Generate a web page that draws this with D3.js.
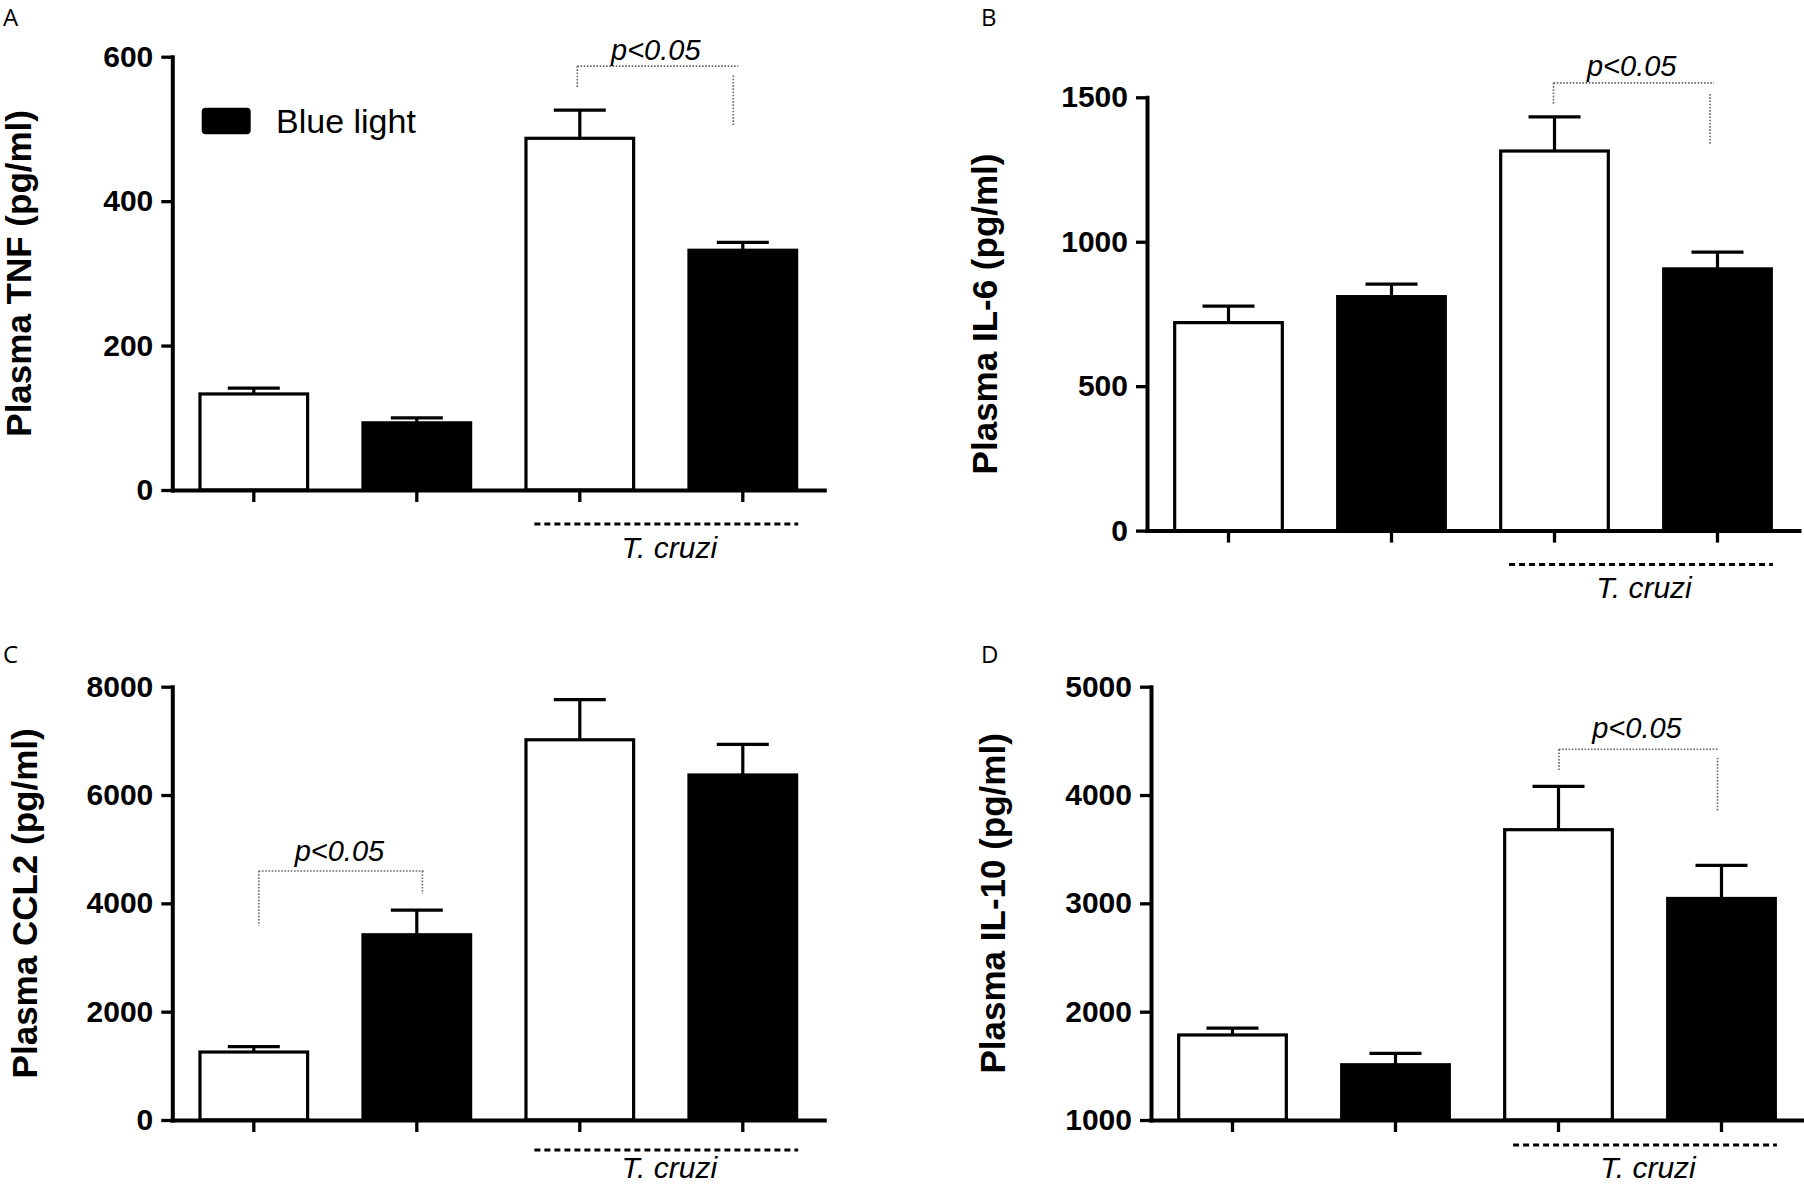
<!DOCTYPE html>
<html><head><meta charset="utf-8">
<script src="https://cdn.jsdelivr.net/npm/d3@7"></script>
<style>
body{margin:0;background:#fff}
svg{display:block}
</style>
</head><body>
<svg id="chart" width="1804" height="1185"></svg>
<script>
// ---------- data ----------
const categories = ["Control", "Blue light", "T. cruzi", "T. cruzi + Blue light"];
const blueLight = [false, true, false, true];
const panelLetters = ["A", "B", "C", "D"];
const yTitles = ["Plasma TNF (pg/ml)", "Plasma IL-6 (pg/ml)", "Plasma CCL2 (pg/ml)", "Plasma IL-10 (pg/ml)"];
const legendLabel = "Blue light";
const groupLabel = "T. cruzi";
const sigLabel = "p<0.05";

const tnfMean  = [133, 93, 487, 332];
const tnfSem   = [8, 7, 39, 11];
const il6Mean  = [720, 810, 1314, 906];
const il6Sem   = [57, 43, 118, 58];
const ccl2Mean = [1255, 3420, 7020, 6370];
const ccl2Sem  = [100, 455, 740, 565];
const il10Mean = [1785, 1510, 3680, 3045];
const il10Sem  = [63, 105, 400, 305];

const tnfTicks  = [0, 200, 400, 600];
const il6Ticks  = [0, 500, 1000, 1500];
const ccl2Ticks = [0, 2000, 4000, 6000, 8000];
const il10Ticks = [1000, 2000, 3000, 4000, 5000];

// significance brackets: compared bars, and [bar level, left leg end, right leg start, right leg end] in data units
const sigPairs = [[2, 3], [2, 3], [0, 1], [2, 3]];
const tnfBracket  = [587, 557, 574, 504];
const il6Bracket  = [1550, 1476, 1511, 1338];
const ccl2Bracket = [4597, 3582, 4597, 4172];
const il10Bracket = [4422, 4218, 4345, 3853];

const means = [tnfMean, il6Mean, ccl2Mean, il10Mean];
const sems = [tnfSem, il6Sem, ccl2Sem, il10Sem];
const ticks = [tnfTicks, il6Ticks, ccl2Ticks, il10Ticks];
const brackets = [tnfBracket, il6Bracket, ccl2Bracket, il10Bracket];

// ---------- layout (positions only) ----------
const PH = 433.3, PW = 652;
const layout = [
  {x: 172.3, top: 56.7,  lx: 3,   ly: 26,  tx: 31,    dash: 34, txt: 68,   pdy: 6,  dl: -2.5, dr: -9.5, he: 5},
  {x: 1147,  top: 97.3,  lx: 981, ly: 26,  tx: 996.7, dash: 34, txt: 67.5, pdy: 7,  dl: -1,   dr: -7.5, he: 4},
  {x: 172.3, top: 686.7, lx: 3,   ly: 663, tx: 36.7,  dash: 30, txt: 57.5, pdy: 10, dl: 5,    dr: 5.6,  he: 1.6},
  {x: 1151,  top: 686.7, lx: 981, ly: 663, tx: 1005,  dash: 25, txt: 57.5, pdy: 11, dl: 0.5,  dr: -4,   he: 1.4}
];

const SANS = "'Liberation Sans', Arial, sans-serif";
const svg = d3.select("#chart");
svg.append("rect").attr("width", 1804).attr("height", 1185).attr("fill", "#fff");

layout.forEach((L, p) => {
  const tk = ticks[p];
  const y = d3.scaleLinear().domain([tk[0], tk[tk.length - 1]]).range([L.top + PH, L.top]);
  const x = d3.scaleBand().domain(categories).range([L.x, L.x + PW]).paddingInner(0.32).paddingOuter(0.16);
  const g = svg.append("g");

  // panel letter
  svg.append("text").attr("x", L.lx).attr("y", L.ly)
    .attr("font-family", "'Open Sans', sans-serif").attr("font-size", 24).attr("fill", "#000")
    .text(panelLetters[p]);

  // y title
  svg.append("text").attr("transform", `translate(${L.tx},${L.top + PH / 2}) rotate(-90)`)
    .attr("text-anchor", "middle").attr("font-family", SANS).attr("font-weight", "bold")
    .attr("font-size", 35).attr("fill", "#000").text(yTitles[p]);

  // bars
  const bw = x.bandwidth(), sw = 3.2;
  const base = y.domain()[0];
  g.selectAll("rect.bar").data(categories).join("rect").attr("class", "bar")
    .attr("x", d => x(d) + sw / 2)
    .attr("width", bw - sw)
    .attr("y", (d, i) => y(means[p][i]))
    .attr("height", (d, i) => y(base) - y(means[p][i]))
    .attr("fill", (d, i) => blueLight[i] ? "#000" : "#fff")
    .attr("stroke", "#000").attr("stroke-width", sw);

  // error bars (upper)
  const capW = 52;
  categories.forEach((c, i) => {
    const cx = x(c) + bw / 2;
    const y0 = y(means[p][i]), y1 = y(means[p][i] + sems[p][i]);
    g.append("line").attr("x1", cx).attr("x2", cx).attr("y1", y0).attr("y2", y1)
      .attr("stroke", "#000").attr("stroke-width", 3.2);
    g.append("line").attr("x1", cx - capW / 2).attr("x2", cx + capW / 2).attr("y1", y1).attr("y2", y1)
      .attr("stroke", "#000").attr("stroke-width", 3.2);
  });

  // y axis
  const ya = svg.append("g").attr("transform", `translate(${L.x},0)`)
    .call(d3.axisLeft(y).tickValues(tk).tickSize(11).tickSizeOuter(0).tickPadding(8).tickFormat(d3.format("d")));
  ya.select(".domain").attr("stroke-width", 4).attr("stroke-linecap", "square");
  ya.selectAll(".tick line").attr("stroke-width", 3.3);
  ya.selectAll(".tick text").attr("font-family", SANS).attr("font-weight", "bold").attr("font-size", 30).attr("fill", "#000");

  // x axis
  const xa = svg.append("g").attr("transform", `translate(0,${L.top + PH})`)
    .call(d3.axisBottom(x).tickSize(12).tickSizeOuter(0).tickFormat(""));
  xa.select(".domain").attr("stroke-width", 4).attr("stroke-linecap", "square");
  xa.selectAll(".tick line").attr("stroke-width", 3.3);

  // T. cruzi group line + label
  const gx0 = x(categories[2]) + 10, gx1 = x(categories[3]) + bw;
  const axY = L.top + PH;
  svg.append("line").attr("x1", gx0).attr("x2", gx1).attr("y1", axY + L.dash).attr("y2", axY + L.dash)
    .attr("stroke", "#000").attr("stroke-width", 3).attr("stroke-dasharray", "6,4");
  svg.append("text").attr("x", (gx0 + gx1) / 2 + 3).attr("y", axY + L.txt)
    .attr("text-anchor", "middle").attr("font-family", SANS).attr("font-style", "italic")
    .attr("font-size", 30).attr("fill", "#000").text(groupLabel);

  // significance bracket
  const [i0, i1] = sigPairs[p];
  const b = brackets[p];
  const lxl = x(categories[i0]) + bw / 2 + L.dl;
  const rxl = x(categories[i1]) + bw / 2 + L.dr;
  const br = svg.append("g").attr("fill", "none").attr("stroke", "#666")
    .attr("stroke-width", 1.6).attr("stroke-dasharray", "1.6,1.6");
  br.append("line").attr("x1", lxl).attr("x2", rxl + L.he).attr("y1", y(b[0])).attr("y2", y(b[0]));
  br.append("line").attr("x1", lxl).attr("x2", lxl).attr("y1", y(b[0])).attr("y2", y(b[1]));
  br.append("line").attr("x1", rxl).attr("x2", rxl).attr("y1", y(b[2])).attr("y2", y(b[3]));
  svg.append("text").attr("x", (lxl + rxl + L.he) / 2 - 2).attr("y", y(b[0]) - L.pdy)
    .attr("text-anchor", "middle").attr("font-family", SANS).attr("font-style", "italic")
    .attr("font-size", 29).attr("fill", "#000").text(sigLabel);

  // legend (panel A only)
  if (p === 0) {
    svg.append("rect").attr("x", 201.7).attr("y", 107.7).attr("width", 49).attr("height", 26.6)
      .attr("rx", 4).attr("fill", "#000");
    svg.append("text").attr("x", 276).attr("y", 132.7).attr("font-family", SANS)
      .attr("font-size", 34).attr("fill", "#000").text(legendLabel);
  }
});
</script>
</body></html>
